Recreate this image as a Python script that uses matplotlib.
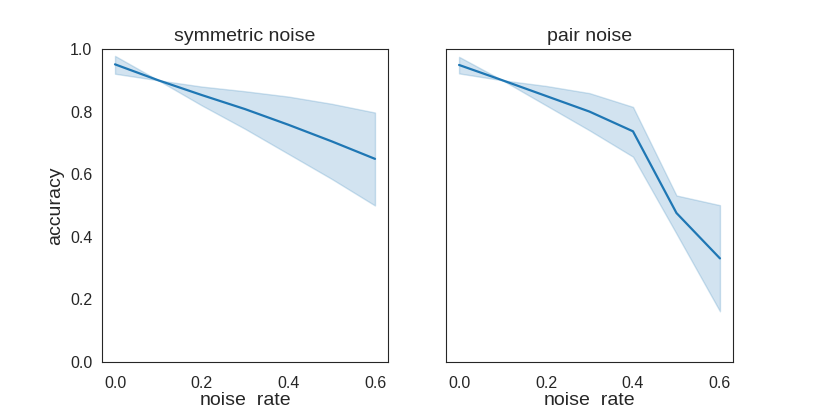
import numpy as np
import matplotlib.pyplot as plt
import seaborn as sns

sns.set_style("white")
plt.rcParams['font.family'] = ['Liberation Sans', 'DejaVu Sans']

noise_rate = [0.0, 0.1, 0.2, 0.3, 0.4, 0.5, 0.6]

sym_mean = [0.951, 0.900, 0.853, 0.808, 0.758, 0.705, 0.649]
sym_low = [0.921, 0.900, 0.820, 0.745, 0.665, 0.585, 0.500]
sym_high = [0.978, 0.900, 0.880, 0.865, 0.848, 0.825, 0.797]

pair_mean = [0.949, 0.900, 0.850, 0.800, 0.737, 0.476, 0.331]
pair_low = [0.922, 0.900, 0.820, 0.740, 0.656, 0.410, 0.162]
pair_high = [0.975, 0.900, 0.882, 0.859, 0.815, 0.532, 0.501]

color = '#1f77b4'

fig = plt.figure(figsize=(8.14, 4.07), dpi=100)
ax1 = fig.add_axes([102 / 814, 45 / 407, 286 / 814, 313 / 407])
ax2 = fig.add_axes([446 / 814, 45 / 407, 287 / 814, 313 / 407], sharey=ax1)

panels = [
    (ax1, 'symmetric noise', sym_mean, sym_low, sym_high),
    (ax2, 'pair noise', pair_mean, pair_low, pair_high),
]
for ax, title, mean, low, high in panels:
    ax.fill_between(noise_rate, low, high, color=color, alpha=0.2)
    ax.plot(noise_rate, mean, color=color, lw=1.6)
    ax.set_title(title, fontsize=14)
    ax.set_xlabel('noise_rate', fontsize=14, labelpad=1)
    ax.set_xticks([0.0, 0.2, 0.4, 0.6])
    ax.tick_params(labelsize=11.5)
    ax.tick_params(axis='x', pad=6.5)
    for s in ax.spines.values():
        s.set_color('#262626')

ax1.set_ylim(0, 1.0)
ax1.set_ylabel('accuracy', fontsize=14)
ax2.tick_params(labelleft=False)

fig.savefig('out.png', dpi=100)
